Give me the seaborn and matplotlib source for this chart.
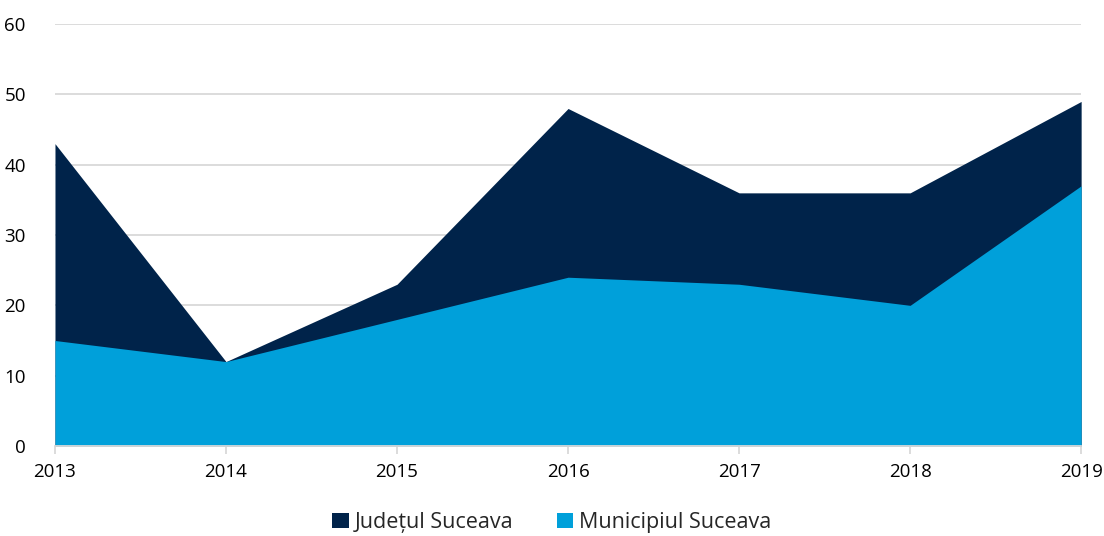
import matplotlib
matplotlib.use("Agg")
import matplotlib.pyplot as plt
import seaborn as sns
import pandas as pd
from matplotlib.patches import Patch

years = [2013, 2014, 2015, 2016, 2017, 2018, 2019]
judet = [43, 12, 23, 48, 36, 36, 49]
municipiu = [15, 12, 18, 24, 23, 20, 37]
series_names = ["Județul Suceava", "Municipiul Suceava"]
colors = ["#00234A", "#00A0DA"]

sns.set_theme(style="white")
plt.rcParams['font.family'] = ['Open Sans', 'DejaVu Sans']

df = pd.DataFrame({"year": years * 2,
                   "value": judet + municipiu,
                   "series": [series_names[0]] * 7 + [series_names[1]] * 7})

fig = plt.figure(figsize=(11.04, 5.36), dpi=100)
ax = fig.add_axes([0.0498, 0.168, 0.9295, 0.787])

sns.lineplot(data=df, x="year", y="value", hue="series", palette=colors,
             linewidth=0, legend=False, ax=ax)
for name, vals, c in zip(series_names, [judet, municipiu], colors):
    ax.fill_between(years, 0, vals, color=c, linewidth=0, zorder=2)

ax.set_xlim(2013, 2019)
ax.set_ylim(0, 60)
ax.set_yticks(range(0, 61, 10))
ax.set_xticks(years)
ax.set_xlabel("")
ax.set_ylabel("")
ax.yaxis.grid(True, color="#D9D9D9", linewidth=1.3, zorder=0)
ax.set_axisbelow(True)
for s in ["top", "right", "left"]:
    ax.spines[s].set_visible(False)
ax.spines["bottom"].set_color("#D9D9D9")
ax.spines["bottom"].set_linewidth(1.3)
ax.spines["bottom"].set_zorder(3)
ax.tick_params(axis="x", which="major", bottom=True, length=6, width=1.3,
               color="#D9D9D9", labelsize=13.5, pad=6)
ax.tick_params(axis="y", left=False, labelsize=13.5, pad=15)
for lab in ax.get_xticklabels() + ax.get_yticklabels():
    lab.set_color("#000000")

handles = [Patch(facecolor=c, edgecolor="none") for c in colors]
fig.legend(handles, series_names, loc="upper center", bbox_to_anchor=(0.5, 0.073),
           ncol=2, frameon=False, fontsize=15.5, handlelength=0.75, handleheight=0.75,
           handletextpad=0.3, columnspacing=2.0, borderpad=0.2)

fig.savefig("out.png", dpi=100)
